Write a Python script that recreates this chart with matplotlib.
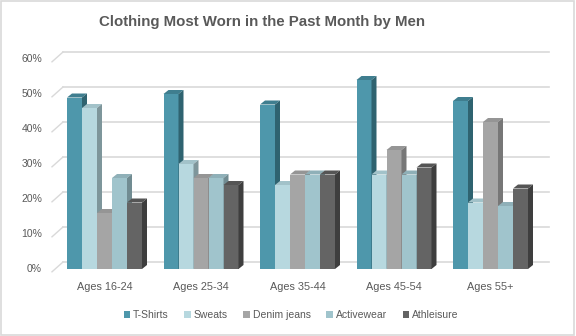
import numpy as np
import matplotlib.pyplot as plt
from matplotlib.patches import Polygon, Rectangle

# data
categories = ['Ages 16-24', 'Ages 25-34', 'Ages 35-44', 'Ages 45-54', 'Ages 55+']
series = ['T-Shirts', 'Sweats', 'Denim jeans', 'Activewear', 'Athleisure']
tshirts = [49, 50, 47, 54, 48]
sweats = [46, 30, 24, 27, 19]
denim = [16, 26, 27, 34, 42]
activewear = [26, 26, 27, 27, 18]
athleisure = [19, 24, 27, 29, 23]
yticks = [0, 10, 20, 30, 40, 50, 60]

values = [tshirts, sweats, denim, activewear, athleisure]
front = ['#4E97AB', '#B7D8DF', '#A5A5A5', '#A0C4CC', '#646464']
top = ['#3F7E8F', '#A2C2C9', '#959595', '#8FB0B8', '#555555']
side = ['#2F6370', '#7E969B', '#777777', '#718C92', '#3E3E3E']
txt = '#595959'

W, H = 576, 336
fig = plt.figure(figsize=(W / 100, H / 100), dpi=100)

# axes in pixel-like units: x = category index, y = percent
px_per_x = 96.5
px_per_y = 3.5
x0_px = 104.5          # centre of first group
y0_px = 269            # 0% front plane
left_px, right_px, top_px, bot_px = 40, 552, 45, 278
ax = fig.add_axes([left_px / W, 1 - bot_px / H,
                   (right_px - left_px) / W, (bot_px - top_px) / H])
ax.set_xlim((left_px - x0_px) / px_per_x, (right_px - x0_px) / px_per_x)
ax.set_ylim(-(bot_px - y0_px) / px_per_y, (y0_px - top_px) / px_per_y)
ax.axis('off')

# back wall offset and bar depth (converted from pixels)
wall_dx, wall_dy = 11 / px_per_x, 7 / px_per_y
bar_dx, bar_dy = 5 / px_per_x, 4 / px_per_y
wall_l = (52 - x0_px) / px_per_x
wall_r = (549 - x0_px) / px_per_x

for t in yticks:
    ax.plot([wall_l + wall_dx, wall_r], [t + wall_dy, t + wall_dy],
            color='#D9D9D9', lw=1.2, zorder=1)
    ax.plot([wall_l, wall_l + wall_dx], [t - 0.8, t + wall_dy],
            color='#D9D9D9', lw=1.0, zorder=1)
    ax.text(wall_l - 10 / px_per_x, t, f'{t}%', ha='right', va='center',
            fontsize=7.5, color=txt, family='Liberation Sans')

bw = 15 / px_per_x
x = np.arange(len(categories))
for i, vals in enumerate(values):
    xs = x - 2.5 * bw + i * bw
    ax.bar(xs, vals, width=bw, align='edge', color=front[i], zorder=3 + i,
           label=series[i], linewidth=0)
    for xl, v in zip(xs, vals):
        ax.add_patch(Polygon([(xl, v), (xl + bar_dx, v + bar_dy),
                              (xl + bw + bar_dx, v + bar_dy), (xl + bw, v)],
                             closed=True, color=top[i], lw=0, zorder=3 + i))
        ax.add_patch(Polygon([(xl + bw, 0), (xl + bw + bar_dx, bar_dy),
                              (xl + bw + bar_dx, v + bar_dy), (xl + bw, v)],
                             closed=True, color=side[i], lw=0, zorder=3 + i))

for xi, c in zip(x, categories):
    ax.text(xi, -(287 - y0_px) / px_per_y, c, ha='center', va='center',
            fontsize=7.8, color=txt, family='Liberation Sans')

fig.text(262 / W, 1 - 22 / H, 'Clothing Most Worn in the Past Month by Men',
         ha='center', va='center', fontsize=10.8, fontweight='bold',
         color=txt, family='Liberation Sans')

leg = fig.legend(*ax.get_legend_handles_labels(), loc='center',
                 bbox_to_anchor=(291 / W, 1 - 315 / H), ncol=5, frameon=False,
                 handlelength=0.6, handleheight=0.6,
                 handletextpad=0.3, columnspacing=1.5,
                 prop={'family': 'Liberation Sans', 'size': 7.5})
for t in leg.get_texts():
    t.set_color(txt)

fig.patches.append(Rectangle((0.002, 0.003), 0.995, 0.994,
                             transform=fig.transFigure, fill=False,
                             edgecolor='#D9D9D9', lw=1.2))

fig.savefig('out.png', dpi=100)
